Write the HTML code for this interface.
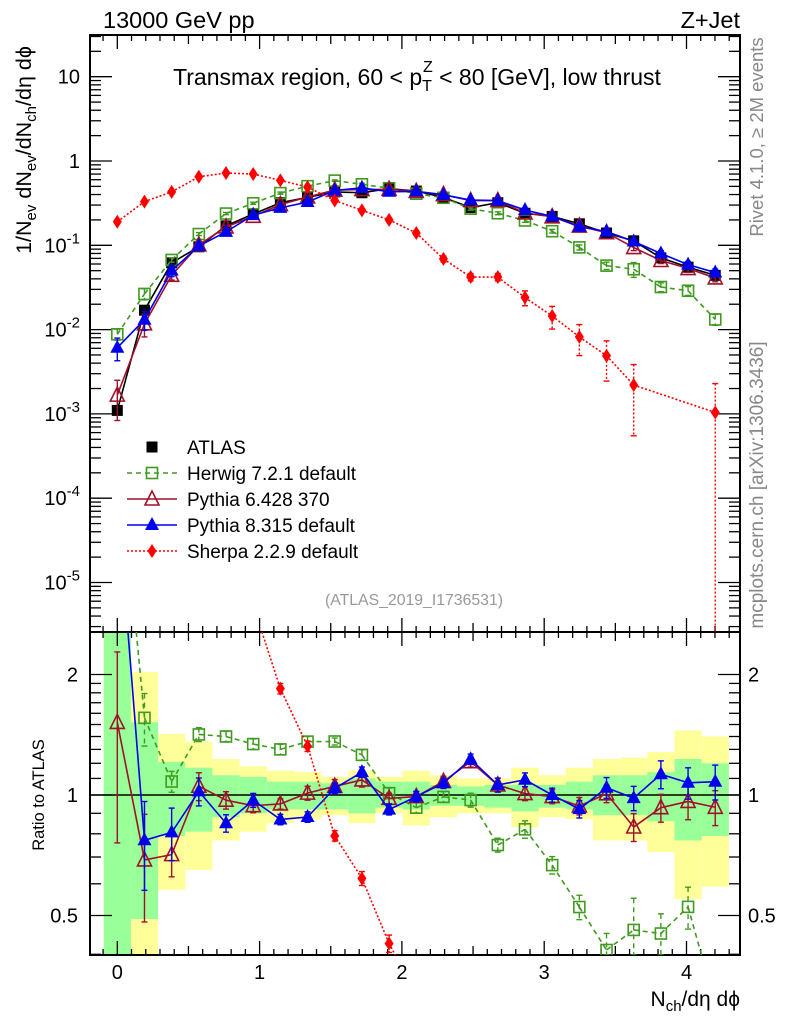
<!DOCTYPE html>
<html><head><meta charset="utf-8"><style>
html,body{margin:0;padding:0;background:#fff;width:786px;height:1024px;overflow:hidden;}
svg{display:block;font-family:"Liberation Sans",sans-serif;}
</style></head><body>
<svg id="chart" width="786" height="1024" viewBox="0 0 786 1024" xmlns="http://www.w3.org/2000/svg" overflow="hidden">
<defs>
<clipPath id="clipMain"><rect x="90" y="35" width="650" height="597"/></clipPath>
<clipPath id="clipRatio"><rect x="90" y="632" width="650" height="323"/></clipPath>
</defs>
<g id="ratioBands" clip-path="url(#clipRatio)"></g>
<g id="axes"></g>
<g id="mainSeries" clip-path="url(#clipMain)"></g>
<g id="ratioSeries" clip-path="url(#clipRatio)"></g>
<g id="labels">
<text x="103" y="28" font-size="23.5">13000 GeV pp</text>
<text x="740" y="28" font-size="23.5" text-anchor="end">Z+Jet</text>
<text x="417" y="85" font-size="23" text-anchor="middle">Transmax region, 60 &lt; p<tspan font-size="16" dy="6">T</tspan><tspan font-size="16" dx="-9" dy="-19">Z</tspan><tspan dy="13"> &lt; 80 [GeV], low thrust</tspan></text>
<text transform="translate(31,150) rotate(-90)" font-size="21.5" text-anchor="middle">1/N<tspan font-size="15" dy="5">ev</tspan><tspan dy="-5"> dN</tspan><tspan font-size="15" dy="5">ev</tspan><tspan dy="-5">/dN</tspan><tspan font-size="15" dy="5">ch</tspan><tspan dy="-5">/dη dϕ</tspan></text>
<text transform="translate(44,795) rotate(-90)" font-size="16.5" text-anchor="middle">Ratio to ATLAS</text>
<text x="740" y="1006" font-size="21" text-anchor="end">N<tspan font-size="15" dy="5">ch</tspan><tspan dy="-5">/dη dϕ</tspan></text>
<text transform="translate(763,137) rotate(-90)" font-size="18.5" fill="#888" text-anchor="middle">Rivet 4.1.0, ≥ 2M events</text>
<text transform="translate(763,485) rotate(-90)" font-size="19" fill="#888" text-anchor="middle">mcplots.cern.ch [arXiv:1306.3436]</text>
<text x="414" y="605" font-size="15.8" fill="#999" text-anchor="middle">(ATLAS_2019_I1736531)</text>
</g>
<g id="legend"></g>
</svg>
<script>
// ---- data ----
const xCenters = [0,0.191,0.382,0.573,0.764,0.955,1.146,1.337,1.528,1.719,1.91,2.101,2.292,2.483,2.674,2.865,3.056,3.247,3.438,3.629,3.82,4.011,4.202];
const atlasVals = [0.0011,0.017,0.062,0.096,0.17,0.235,0.32,0.37,0.43,0.42,0.47,0.44,0.37,0.28,0.32,0.24,0.22,0.18,0.14,0.113,0.071,0.055,0.044];
const herwigVals = [0.0088,0.0265,0.067,0.136,0.238,0.315,0.416,0.503,0.585,0.529,0.475,0.409,0.366,0.272,0.24,0.197,0.147,0.0945,0.0574,0.052,0.032,0.0289,0.0132];
const herwigErr = [0.15,0.15,0.06,0.04,0.03,0.03,0.03,0.03,0.02,0.03,0.03,0.03,0.03,0.04,0.04,0.05,0.05,0.07,0.1,0.2,0.12,0.12,0.15];
const py6Vals = [0.00167,0.0117,0.044,0.101,0.165,0.221,0.304,0.374,0.452,0.458,0.461,0.436,0.40,0.339,0.339,0.242,0.218,0.169,0.141,0.094,0.066,0.053,0.041];
const py6Err = [0.5,0.3,0.12,0.08,0.05,0.04,0.03,0.04,0.04,0.04,0.03,0.03,0.03,0.03,0.04,0.04,0.04,0.05,0.05,0.08,0.08,0.1,0.1];
const py8Vals = [0.0061,0.0131,0.050,0.098,0.1445,0.228,0.278,0.326,0.447,0.479,0.432,0.436,0.396,0.344,0.339,0.262,0.22,0.166,0.146,0.111,0.080,0.059,0.0475];
const py8Err = [0.3,0.25,0.15,0.08,0.05,0.04,0.03,0.03,0.03,0.03,0.03,0.03,0.03,0.03,0.04,0.04,0.04,0.05,0.06,0.07,0.08,0.09,0.1];
const sherpaVals = [0.19,0.33,0.43,0.65,0.72,0.70,0.59,0.49,0.34,0.26,0.20,0.14,0.069,0.042,0.042,0.024,0.0145,0.0082,0.0049,0.0022,null,null,0.00104];
const sherpaErr = [0.04,0.03,0.03,0.03,0.03,0.03,0.03,0.03,0.03,0.04,0.05,0.06,0.08,0.1,0.1,0.2,0.3,0.4,0.5,0.75,0,0,1.2];
const greenHi = [3,1.52,1.21,1.17,1.12,1.11,1.08,1.08,1.07,1.10,1.08,1.08,1.06,1.05,1.06,1.06,1.06,1.08,1.12,1.12,1.14,1.23,1.20];
const greenLo = [0.3,0.49,0.79,0.81,0.88,0.90,0.92,0.92,0.92,0.90,0.93,0.92,0.94,0.94,0.93,0.91,0.93,0.92,0.89,0.89,0.86,0.77,0.79];
const yellowHi = [3,2.03,1.42,1.36,1.23,1.18,1.15,1.14,1.11,1.15,1.11,1.15,1.12,1.10,1.10,1.17,1.12,1.17,1.23,1.24,1.28,1.45,1.40];
const yellowLo = [0.3,0.3,0.58,0.65,0.77,0.81,0.85,0.87,0.89,0.85,0.90,0.84,0.88,0.90,0.90,0.83,0.88,0.87,0.77,0.77,0.72,0.55,0.59];
const xTickLabels = ["0","1","2","3","4"];
const mainTickLabels = ["10","1","10^-1","10^-2","10^-3","10^-4","10^-5"];
const ratioTickLabels = ["2","1","0.5"];
const binWidth = 0.191;

// ---- axes functions ----
const L=90,R=740,T=35,MB=632,RB=955;
const X = v => 117.3 + 142.3*v;
const YM = v => 161 - 84.3*Math.log10(v);
const YR = r => 795 - 120.5*Math.log2(r);
const NS="http://www.w3.org/2000/svg";
function mk(tag, attrs, parent){const e=document.createElementNS(NS,tag);for(const k in attrs)e.setAttribute(k,attrs[k]);parent.appendChild(e);return e;}
const gAxes=document.getElementById('axes'), gMain=document.getElementById('mainSeries'), gRatio=document.getElementById('ratioSeries'), gBands=document.getElementById('ratioBands'), gLeg=document.getElementById('legend');
const clampY = (y,lo,hi) => Math.max(lo-20, Math.min(hi+20, y));

// clip a segment to y-range [top,bot] (x-range is within plot anyway)
function clipSeg(x1,y1,x2,y2,top,bot){
  let t0=0,t1=1; const dy=y2-y1;
  if(dy===0){ if(y1<top||y1>bot) return null; }
  else {
    let ta=(top-y1)/dy, tb=(bot-y1)/dy; if(ta>tb){const s=ta;ta=tb;tb=s;}
    t0=Math.max(t0,ta); t1=Math.min(t1,tb); if(t0>t1) return null;
  }
  return [x1+(x2-x1)*t0, y1+dy*t0, x1+(x2-x1)*t1, y1+dy*t1];
}

// bands
[[yellowLo,yellowHi,'#ffff99','yellow'],[greenLo,greenHi,'#99ff99','green']].forEach(([lo,hi,col,nm])=>{
  xCenters.forEach((c,i)=>{
    const x0=X(c-binWidth/2), x1=X(c+binWidth/2);
    const yt=Math.max(MB,YR(hi[i])), yb=Math.min(RB,YR(lo[i]));
    const r=mk('rect',{x:x0,y:yt,width:x1-x0,height:yb-yt,fill:col},gBands);
    
    
  });
});

// frames
const f1=mk('rect',{x:L,y:T,width:R-L,height:MB-T,fill:'none',stroke:'#000','stroke-width':2},gAxes);


const f2=mk('rect',{x:L,y:MB,width:R-L,height:RB-MB,fill:'none',stroke:'#000','stroke-width':2},gAxes);


const unity=mk('line',{x1:L,x2:R,y1:YR(1),y2:YR(1),stroke:'#000','stroke-width':1.5},gAxes);



function tick(x1,y1,x2,y2){mk('line',{x1,y1,x2,y2,stroke:'#000','stroke-width':1.3},gAxes);}
// x ticks
for(let k=-1;k<=43;k++){
  const v=k/10, x=X(v); if(x<L+1||x>R-1) continue;
  const len = (k%10===0)?14:(k%5===0?9:6);
  [T,MB].forEach(y=>tick(x,y,x,y+len));
  [MB,RB].forEach(y=>tick(x,y,x,y-len));
}
xTickLabels.forEach((lab,i)=>{
  const t=mk('text',{x:X(i),y:979,'font-size':20,'text-anchor':'middle'},gAxes); t.textContent=lab;
  
  
});
// main y ticks
for(let e=-6;e<=1;e++){
  for(let m=1;m<=9;m++){
    const y=YM(m*Math.pow(10,e)); if(y<T+1||y>MB-1) continue;
    const len=m===1?22:11;
    tick(L,y,L+len,y); tick(R,y,R-len,y);
  }
}
mainTickLabels.forEach((lab,i)=>{
  const y=YM(Math.pow(10,1-i))+7;
  const t=mk('text',{x:80,y:y,'font-size':20,'text-anchor':'end'},gAxes);
  
  
  if(lab.indexOf('^')>0){const p=lab.split('^');t.textContent=p[0];const s=mk('tspan',{dy:-9,'font-size':15},t);s.textContent=p[1];}
  else t.textContent=lab;
});
// ratio y ticks
[0.4,0.5,0.6,0.7,0.8,0.9,1,1.1,1.2,1.3,1.4,1.5,1.6,1.7,1.8,1.9,2].forEach(r=>{
  const y=YR(r); const len=(r===1||r===2||r===0.5)?22:11;
  tick(L,y,L+len,y); tick(R,y,R-len,y);
});
ratioTickLabels.forEach(lab=>{
  const y=YR(parseFloat(lab))+7;
  const t=mk('text',{x:78,y:y,'font-size':20,'text-anchor':'end'},gAxes); t.textContent=lab;
  
  
  const t2=mk('text',{x:748,y:y,'font-size':20},gAxes); t2.textContent=lab;
  
  
});

// markers
function marker(type,x,y,col,parent){
  let e;
  if(type==='sqFill') e=mk('rect',{x:x-5.5,y:y-5.5,width:11,height:11,fill:col},parent);
  else if(type==='sqOpen') e=mk('rect',{x:x-5.5,y:y-5.5,width:11,height:11,fill:'none',stroke:col,'stroke-width':1.6},parent);
  else if(type==='triOpen') e=mk('polygon',{points:`${x},${y-8} ${x-7},${y+6} ${x+7},${y+6}`,fill:'none',stroke:col,'stroke-width':1.6},parent);
  else if(type==='triFill') e=mk('polygon',{points:`${x},${y-8} ${x-7},${y+5} ${x+7},${y+5}`,fill:col},parent);
  else if(type==='diam') e=mk('polygon',{points:`${x},${y-7} ${x-4.5},${y} ${x},${y+7} ${x+4.5},${y}`,fill:col},parent);
  return e;
}
function series(name,vals,errs,col,dash,type,ratio){
  const g=mk('g',{},ratio?gRatio:gMain);
  
  
  const Y = ratio?YR:YM;
  const top = ratio?MB:T, bot = ratio?RB:MB;
  const pts=[];
  vals.forEach((v,i)=>{ if(v===null) return; const val=ratio?v/atlasVals[i]:v; pts.push([X(xCenters[i]),Y(val),val,i]); });
  for(let k=0;k<pts.length-1;k++){
    const s=clipSeg(pts[k][0],pts[k][1],pts[k+1][0],pts[k+1][1],top,bot);
    if(!s) continue;
    const a={x1:s[0],y1:s[1],x2:s[2],y2:s[3],stroke:col,'stroke-width':1.6};
    if(dash) a['stroke-dasharray']=dash;
    const ln=mk('line',a,g);
    
    
  }
  pts.forEach(([x,y,val,i])=>{
    if(y<top-8||y>bot+8) return;
    if(errs){
      const e=errs[i]; const hi=val*(1+e), lo=val*(1-e);
      const yh=Math.max(top,Y(hi)), yl=lo>0?Math.min(bot,Y(lo)):bot;
      const ea={x1:x,x2:x,y1:yh,y2:yl,stroke:col,'stroke-width':1.4}; if(dash) ea['stroke-dasharray']=dash;
      mk('line',ea,g);
      mk('line',{x1:x-3,x2:x+3,y1:yh,y2:yh,stroke:col,'stroke-width':1.4},g);
      if(lo>0) mk('line',{x1:x-3,x2:x+3,y1:yl,y2:yl,stroke:col,'stroke-width':1.4},g);
    }
    const m=marker(type,x,y,col,g);
    
    
  });
}
series('atlas',atlasVals,null,'#000',null,'sqFill',false);
series('herwig',herwigVals,herwigErr,'#3f9a1f','5,4','sqOpen',false);
series('pythia6',py6Vals,py6Err,'#a0102a',null,'triOpen',false);
series('pythia8',py8Vals,py8Err,'#0000ee',null,'triFill',false);
series('sherpa',sherpaVals,sherpaErr,'#ff0000','2,2','diam',false);
series('herwig',herwigVals,herwigErr,'#3f9a1f','5,4','sqOpen',true);
series('pythia6',py6Vals,py6Err,'#a0102a',null,'triOpen',true);
series('pythia8',py8Vals,py8Err,'#0000ee',null,'triFill',true);
series('sherpa',sherpaVals,sherpaErr,'#ff0000','2,2','diam',true);

// legend
const legItems=[['ATLAS','#000',null,'sqFill',false],['Herwig 7.2.1 default','#3f9a1f','5,4','sqOpen',true],['Pythia 6.428 370','#a0102a',null,'triOpen',true],['Pythia 8.315 default','#0000ee',null,'triFill',true],['Sherpa 2.2.9 default','#ff0000','2,2','diam',true]];
legItems.forEach(([lab,col,dash,type,line],i)=>{
  const y=447+26*i;
  const g=mk('g',{},gLeg);
  
  
  if(line){const a={x1:127,x2:177,y1:y,y2:y,stroke:col,'stroke-width':1.6}; if(dash)a['stroke-dasharray']=dash; mk('line',a,g);}
  marker(type,152,y,col,g);
  const t=mk('text',{x:187,y:y+7,'font-size':19},g); t.textContent=lab;
});
</script>
</body></html>
